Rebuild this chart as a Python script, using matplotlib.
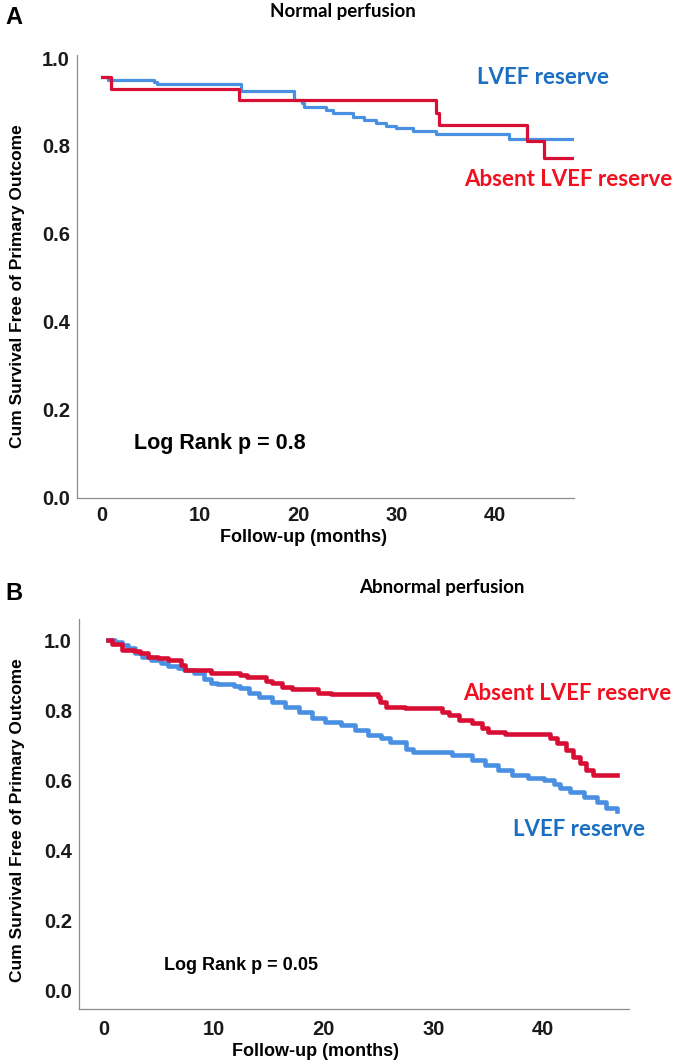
import matplotlib
matplotlib.use("Agg")
import matplotlib.pyplot as plt

W, H = 685, 1064

# Panel A: normal perfusion (months, cumulative survival)
a_reserve_t = [0.1, 0.6, 5.3, 5.6, 14.2, 19.6, 20.4, 20.6, 22.8, 23.5, 25.5, 26.7, 27.9, 28.9, 29.9, 31.6, 34.0, 41.4, 48.0]
a_reserve_s = [0.956, 0.950, 0.945, 0.941, 0.925, 0.904, 0.897, 0.888, 0.882, 0.875, 0.866, 0.859, 0.852, 0.845, 0.840, 0.834, 0.827, 0.815, 0.815]
a_absent_t = [0.0, 1.0, 14.0, 34.0, 34.3, 43.2, 45.0, 47.9]
a_absent_s = [0.956, 0.930, 0.905, 0.876, 0.847, 0.811, 0.772, 0.772]

# Panel B: abnormal perfusion
b_reserve_t = [0.3, 1.0, 1.6, 2.2, 2.8, 3.4, 4.3, 5.2, 5.8, 6.7, 7.3, 8.2, 9.1, 9.7, 10.3, 11.8, 12.4,
               13.2, 14.1, 15.3, 16.5, 17.7, 18.9, 20.1, 21.6, 22.8, 24.0, 25.2, 26.0, 27.5, 28.1,
               31.1, 31.7, 33.5, 34.7, 35.9, 37.1, 38.6, 40.1, 41.0, 41.5, 42.4, 43.7, 44.9, 45.7, 46.7]
b_reserve_s = [1.0, 0.995, 0.986, 0.976, 0.962, 0.952, 0.943, 0.933, 0.926, 0.919, 0.914, 0.905, 0.890, 0.878, 0.873, 0.870, 0.862,
               0.848, 0.838, 0.824, 0.810, 0.795, 0.776, 0.767, 0.757, 0.743, 0.729, 0.719, 0.710, 0.690, 0.681,
               0.681, 0.671, 0.657, 0.643, 0.629, 0.614, 0.605, 0.600, 0.590, 0.576, 0.567, 0.552, 0.538, 0.519, 0.511]
b_absent_t = [0.3, 0.7, 1.6, 2.7, 3.3, 4.0, 4.9, 5.8, 7.0, 7.4, 9.7, 12.4, 13.0, 14.7, 15.3, 16.2, 17.1, 19.5,
              20.7, 24.9, 25.1, 25.7, 27.4, 30.8, 31.4, 32.3, 33.5, 34.4, 35.0, 36.5, 40.6, 41.2, 42.1,
              42.7, 43.3, 43.9, 44.5, 46.7]
b_absent_s = [1.0, 0.990, 0.971, 0.969, 0.962, 0.952, 0.948, 0.943, 0.929, 0.914, 0.907, 0.900, 0.893, 0.884, 0.876, 0.867, 0.860, 0.850,
              0.845, 0.838, 0.824, 0.810, 0.805, 0.795, 0.786, 0.771, 0.762, 0.748, 0.738, 0.731, 0.719, 0.705, 0.686,
              0.667, 0.648, 0.629, 0.614, 0.614]

x_ticks = [0, 10, 20, 30, 40]
y_ticks = [0.0, 0.2, 0.4, 0.6, 0.8, 1.0]

BLUE = "#4a90e2"
RED = "#d80f35"
BLUE_TXT = "#1a6fc1"
RED_TXT = "#f01020"
AX_FONT = "Liberation Sans"
LBL_FONT = "Lato"


def px_axes(left, top, right, bottom):
    return [left / W, 1 - bottom / H, (right - left) / W, (bottom - top) / H]


def ftext(x, y, s, **kw):
    fig.text(x / W, 1 - y / H, s, **kw)


def style(ax, xlim, ylim, pad_x):
    ax.set_xlim(*xlim)
    ax.set_ylim(*ylim)
    ax.set_xticks(x_ticks)
    ax.set_yticks(y_ticks)
    ax.set_yticklabels([f"{v:.1f}" for v in y_ticks])
    for s in ["top", "right"]:
        ax.spines[s].set_visible(False)
    for s in ["left", "bottom"]:
        ax.spines[s].set_color("#8c8c8c")
        ax.spines[s].set_linewidth(0.9)
    ax.tick_params(axis="x", length=0, pad=pad_x, labelsize=14.5, labelcolor="#1a1a1a")
    ax.tick_params(axis="y", length=0, pad=5, labelsize=14.5, labelcolor="#1a1a1a")
    for lab in ax.get_xticklabels() + ax.get_yticklabels():
        lab.set_family(AX_FONT)
        lab.set_fontweight("bold")


fig = plt.figure(figsize=(W / 100, H / 100), dpi=100)

# ---- Panel A ----
ax1 = fig.add_axes(px_axes(77, 55, 574, 498))
ax1.step(a_reserve_t, a_reserve_s, where="post", color=BLUE, lw=2.3)
ax1.step(a_absent_t, a_absent_s, where="post", color=RED, lw=2.3)
style(ax1, (-2.5, 48.0), (-0.002, 1.007), 6)

ftext(14, 17, "A", fontsize=17, fontweight="bold", family=AX_FONT, ha="center", va="center")
ftext(343, 12, "Normal perfusion", fontsize=13.5, fontweight="bold", family=LBL_FONT, ha="center", va="center")
ftext(543, 78, "LVEF reserve", fontsize=16, fontweight="bold", family=LBL_FONT, color=BLUE_TXT, ha="center", va="center")
ftext(568, 180, "Absent LVEF reserve", fontsize=16, fontweight="bold", family=LBL_FONT, color=RED_TXT, ha="center", va="center")
ftext(220, 443, "Log Rank p = 0.8", fontsize=15.5, fontweight="bold", family=AX_FONT, ha="center", va="center")
ftext(303, 537, "Follow-up (months)", fontsize=13, fontweight="bold", family=AX_FONT, ha="center", va="center")
ftext(18, 286, "Cum Survival Free of Primary Outcome", fontsize=12.5, fontweight="bold", family=AX_FONT,
      rotation=90, ha="center", va="center")

# ---- Panel B ----
ax2 = fig.add_axes(px_axes(79, 619, 629, 1009))
ax2.step(b_reserve_t, b_reserve_s, where="post", color=BLUE, lw=3.3)
ax2.step(b_absent_t, b_absent_s, where="post", color=RED, lw=3.3)
style(ax2, (-2.3, 47.8), (-0.054, 1.06), 8)

ftext(14, 593, "B", fontsize=17, fontweight="bold", family=AX_FONT, ha="center", va="center")
ftext(442, 587, "Abnormal perfusion", fontsize=13.5, fontweight="bold", family=LBL_FONT, ha="center", va="center")
ftext(567, 693, "Absent LVEF reserve", fontsize=16, fontweight="bold", family=LBL_FONT, color=RED_TXT, ha="center", va="center")
ftext(579, 830, "LVEF reserve", fontsize=16, fontweight="bold", family=LBL_FONT, color=BLUE_TXT, ha="center", va="center")
ftext(241, 965, "Log Rank p = 0.05", fontsize=13, fontweight="bold", family=AX_FONT, ha="center", va="center")
ftext(315, 1052, "Follow-up (months)", fontsize=13, fontweight="bold", family=AX_FONT, ha="center", va="center")
ftext(18, 820, "Cum Survival Free of Primary Outcome", fontsize=12.5, fontweight="bold", family=AX_FONT,
      rotation=90, ha="center", va="center")

fig.savefig("out.png", dpi=100)
